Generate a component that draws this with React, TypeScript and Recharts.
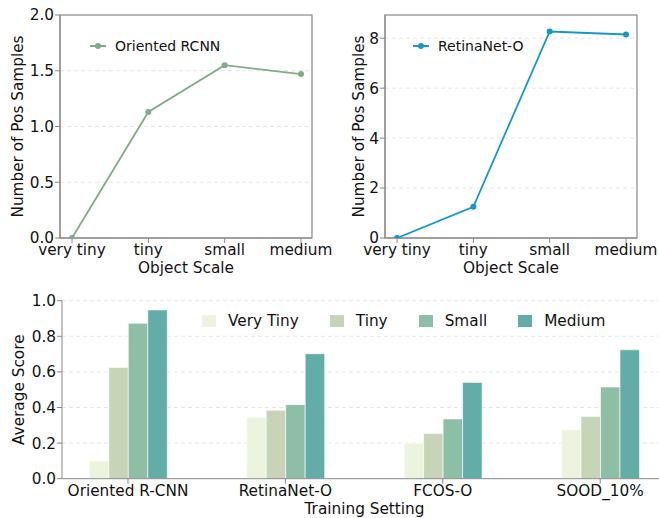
import React from "react"
import {
  LineChart,
  Line,
  BarChart,
  Bar,
  XAxis,
  YAxis,
  CartesianGrid,
  Legend,
  Label,
} from "recharts"

// top charts
const scales = ["very tiny", "tiny", "small", "medium"]
const orientedRcnnPos = [0, 1.13, 1.55, 1.47]
const retinaNetPos = [0, 1.25, 8.27, 8.15]
const leftTicks = [0, 0.5, 1, 1.5, 2]
const rightTicks = [0, 2, 4, 6, 8]

// bottom chart
const settings = ["Oriented R-CNN", "RetinaNet-O", "FCOS-O", "SOOD_10%"]
const veryTinyScore = [0.1, 0.345, 0.199, 0.276]
const tinyScore = [0.625, 0.384, 0.254, 0.35]
const smallScore = [0.873, 0.416, 0.336, 0.515]
const mediumScore = [0.948, 0.702, 0.541, 0.724]
const scoreTicks = [0, 0.2, 0.4, 0.6, 0.8, 1.0]

const FONT = "'DejaVu Sans', sans-serif"
const FS = 15.3
const AXIS = "#888888"
const INK = "#111111"
const GRID = "#e6e6e6"

const barSeries = [
  { key: "veryTiny", name: "Very Tiny", color: "#edf4de", values: veryTinyScore },
  { key: "tiny", name: "Tiny", color: "#c7d4b7", values: tinyScore },
  { key: "small", name: "Small", color: "#8dbea6", values: smallScore },
  { key: "medium", name: "Medium", color: "#63ada8", values: mediumScore },
]

const leftData = scales.map((s, i) => ({ scale: s, value: orientedRcnnPos[i] }))
const rightData = scales.map((s, i) => ({ scale: s, value: retinaNetPos[i] }))
const barData = settings.map((s, i) => {
  const row: any = { setting: s }
  barSeries.forEach((b) => {
    row[b.key] = b.values[i]
  })
  return row
})

const tickStyle = { fontSize: FS, fill: INK, fontFamily: FONT }
const titleStyle = { fontSize: FS, fill: INK, fontFamily: FONT }

function LineLegend({ name, color }: { name: string; color: string }) {
  return (
    <div style={{ display: "flex", alignItems: "center", fontFamily: FONT, fontSize: 14, color: INK }}>
      <svg width={16} height={10} style={{ marginRight: 9 }}>
        <line x1={0} y1={5} x2={16} y2={5} stroke={color} strokeWidth={2} />
        <circle cx={8} cy={5} r={3} fill={color} />
      </svg>
      <span>{name}</span>
    </div>
  )
}

function BarLegend() {
  return (
    <div style={{ display: "flex", alignItems: "center", fontFamily: FONT, fontSize: FS, color: INK }}>
      {barSeries.map((b, i) => (
        <div key={b.key} style={{ display: "flex", alignItems: "center", marginRight: i < 3 ? 31 : 0 }}>
          <div style={{ width: 14, height: 12, background: b.color, marginRight: 12 }} />
          <span style={{ lineHeight: "18px" }}>{b.name}</span>
        </div>
      ))}
    </div>
  )
}

function ScaleChart({
  data,
  color,
  name,
  domain,
  ticks,
  yWidth,
  width,
  labelDx,
  legendLeft,
}: any) {
  return (
    <LineChart
      width={width}
      height={285}
      data={data}
      margin={{ top: 15, right: width - yWidth - 252, bottom: 0, left: 0 }}
    >
      <rect x={yWidth} y={15} width={252} height={223} fill="none" stroke={AXIS} strokeWidth={1.2} />
      <CartesianGrid
        vertical={false}
        stroke={GRID}
        strokeDasharray="4 3"
        horizontalValues={ticks.filter((t: number) => t > 0 && t < domain[1])}
      />
      <XAxis
        dataKey="scale"
        padding={{ left: 12, right: 11 }}
        height={47}
        tickSize={5}
        tickMargin={1.5}
        stroke={AXIS}
        tick={tickStyle}
        interval={0}
      >
        <Label value="Object Scale" position="center" dy={6.5} style={titleStyle} />
      </XAxis>
      <YAxis
        width={yWidth}
        domain={domain}
        ticks={ticks}
        tickFormatter={(v: number) => (domain[1] > 3 ? String(v) : v.toFixed(1))}
        tickSize={5}
        tickMargin={1}
        stroke={AXIS}
        tick={tickStyle}
        allowDataOverflow
      >
        <Label
          value="Number of Pos Samples"
          angle={-90}
          position="center"
          dx={labelDx}
          style={{ ...titleStyle, textAnchor: "middle" }}
        />
      </YAxis>
      <Legend
        layout="vertical"
        verticalAlign="middle"
        align="center"
        wrapperStyle={{ left: legendLeft, top: 38, width: 200 }}
        content={() => <LineLegend name={name} color={color} />}
      />
      <Line
        type="linear"
        dataKey="value"
        name={name}
        stroke={color}
        strokeWidth={1.8}
        dot={{ r: 3, fill: color, stroke: color, strokeWidth: 0 }}
        isAnimationActive={false}
      />
    </LineChart>
  )
}

export default function App() {
  return (
    <div
      style={{
        position: "absolute",
        left: 0,
        top: 0,
        width: 659,
        height: 518,
        overflow: "hidden",
        background: "#ffffff",
      }}
    >
      <div style={{ position: "absolute", left: 0, top: 0 }}>
        <ScaleChart
          data={leftData}
          color="#80ac88"
          name="Oriented RCNN"
          domain={[0, 2]}
          ticks={leftTicks}
          yWidth={60}
          width={350}
          labelDx={-12}
          legendLeft={90}
        />
      </div>
      <div style={{ position: "absolute", left: 330, top: 0 }}>
        <ScaleChart
          data={rightData}
          color="#1597cc"
          name="RetinaNet-O"
          domain={[0, 8.93]}
          ticks={rightTicks}
          yWidth={55}
          width={329}
          labelDx={1}
          legendLeft={83}
        />
      </div>
      <div style={{ position: "absolute", left: 0, top: 280 }}>
        <BarChart
          width={700}
          height={238}
          data={barData}
          margin={{ top: 20.7, right: 33, bottom: 0, left: 0 }}
          barGap={0}
        >
          <CartesianGrid
            vertical={false}
            stroke={GRID}
            strokeDasharray="4 3"
            horizontalValues={[0.2, 0.4, 0.6, 0.8, 1.0]}
          />
          <XAxis
            dataKey="setting"
            padding={{ left: -12.7, right: -11.9 }}
            height={39.3}
            tickSize={5}
            tickMargin={1.5}
            stroke={AXIS}
            tick={tickStyle}
            interval={0}
          >
            <Label value="Training Setting" position="center" dy={10.7} style={titleStyle} />
          </XAxis>
          <YAxis
            width={62}
            domain={[0, 1]}
            ticks={scoreTicks}
            tickFormatter={(v: number) => v.toFixed(1)}
            tickSize={5}
            tickMargin={1}
            stroke={AXIS}
            tick={tickStyle}
          >
            <Label
              value="Average Score"
              angle={-90}
              position="center"
              dx={-12.7}
              style={{ ...titleStyle, textAnchor: "middle" }}
            />
          </YAxis>
          <Legend
            layout="vertical"
            verticalAlign="middle"
            align="center"
            wrapperStyle={{ left: 202, top: 32, width: 460 }}
            content={() => <BarLegend />}
          />
          {barSeries.map((b) => (
            <Bar
              key={b.key}
              dataKey={b.key}
              name={b.name}
              fill={b.color}
              stroke="#ffffff"
              strokeWidth={0.6}
              barSize={19.5}
              isAnimationActive={false}
            />
          ))}
        </BarChart>
      </div>
    </div>
  )
}
